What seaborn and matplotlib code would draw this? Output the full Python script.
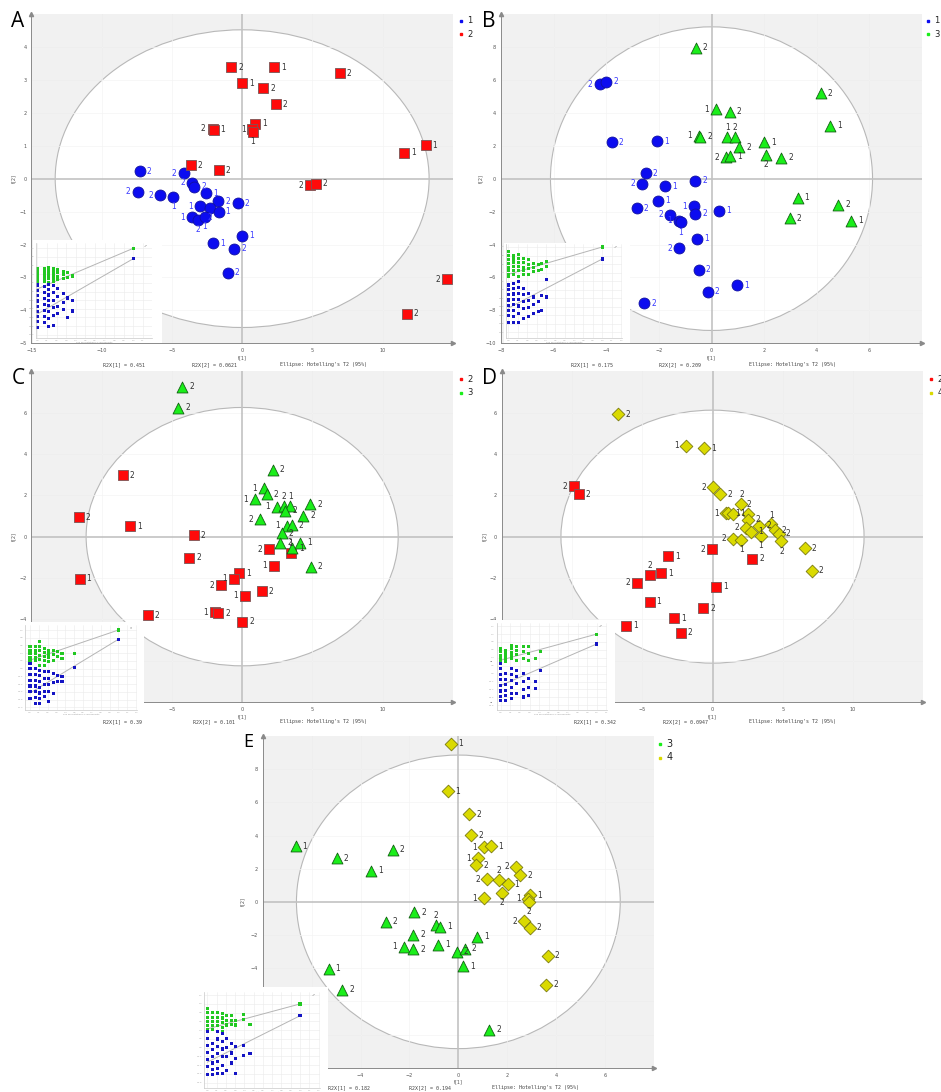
import numpy as np
import pandas as pd
import matplotlib
matplotlib.use('Agg')
import matplotlib.pyplot as plt
import seaborn as sb
from matplotlib.patches import Ellipse
from matplotlib.lines import Line2D
from matplotlib.ticker import MultipleLocator

# ---------------- score values ----------------
# panel A : groups 1 (circles) and 2 (squares)
a_x1 = [-7.27, -7.44, -5.83, -4.91, -4.17, -3.58, -3.41, -2.56, -1.71, -0.31,
        -3.01, -2.30, -1.68, -3.60, -3.15, -2.65, 0.02, -2.06, -0.57, -1.04]
a_y1 = [0.23, -0.40, -0.51, -0.55, 0.16, -0.12, -0.25, -0.45, -0.69, -0.74,
        -0.84, -0.89, -1.01, -1.17, -1.25, -1.16, -1.74, -1.96, -2.13, -2.86]
a_l1 = ['2', '2', '2', '1', '2', '2', '2', '1', '2', '2',
        '1', '2', '1', '1', '2', '1', '1', '1', '2', '2']
a_x2 = [-0.76, 2.27, 6.94, 0.0, 1.49, 2.39, -2.10, -2.02, 0.90, 0.73,
        0.75, 11.52, 13.06, -3.65, -1.66, 4.81, 5.24, 14.6, 11.73]
a_y2 = [3.38, 3.38, 3.20, 2.90, 2.74, 2.26, 1.51, 1.49, 1.66, 1.50,
        1.42, 0.78, 1.02, 0.40, 0.26, -0.20, -0.15, -3.06, -4.10]
a_l2 = ['2', '1', '2', '1', '2', '2', '2', '1', '1', '1',
        '1', '1', '1', '2', '2', '2', '2', '2', '2']

# panel B : groups 1 and 3
b_x1 = [-4.25, -4.0, -3.78, -2.06, -2.49, -2.64, -1.75, -0.62, -2.02, -2.84, -0.67,
        -0.62, 0.29, -1.57, -1.24, -1.17, -0.56, -1.23, -0.49, -0.15, 0.96, -2.56]
b_y1 = [5.74, 5.90, 2.22, 2.26, 0.32, -0.32, -0.46, -0.12, -1.35, -1.80, -1.68,
        -2.14, -1.94, -2.18, -2.55, -2.65, -3.64, -4.22, -5.54, -6.87, -6.46, -7.56]
b_l1 = ['2', '2', '2', '1', '2', '2', '1', '2', '1', '2', '1',
        '2', '1', '2', '1', '1', '1', '2', '2', '2', '1', '2']
b_x3 = [-0.60, 0.17, 0.70, 4.16, 4.52, -0.47, -0.42, 0.60, 0.90, 1.05,
        2.0, 0.55, 0.70, 2.08, 2.66, 3.27, 4.82, 2.98, 5.30]
b_y3 = [7.96, 4.22, 4.06, 5.19, 3.21, 2.61, 2.53, 2.53, 2.53, 1.90,
        2.20, 1.29, 1.35, 1.43, 1.27, -1.15, -1.60, -2.42, -2.57]
b_l3 = ['2', '1', '2', '2', '1', '1', '2', '1', '2', '2',
        '1', '2', '1', '2', '2', '1', '2', '2', '1']

# panel C : groups 2 and 3
c_x2 = [-8.48, -11.61, -7.99, -3.46, -3.77, -11.56, -6.73, 1.94, 3.48,
        2.27, -0.21, -0.57, -1.47, 0.17, 1.40, -1.92, -1.71, 0.0]
c_y2 = [2.97, 0.95, 0.50, 0.06, -1.02, -2.03, -3.81, -0.61, -0.77,
        -1.40, -1.76, -2.03, -2.34, -2.85, -2.63, -3.66, -3.71, -4.11]
c_l2 = ['2', '2', '1', '2', '2', '1', '2', '2', '1',
        '1', '1', '1', '2', '1', '2', '1', '2', '2']
c_x3 = [-4.27, -4.53, 2.16, 1.54, 1.75, 0.90, 2.46, 2.96, 3.41, 3.06,
        4.86, 4.34, 1.28, 3.20, 3.53, 2.82, 2.70, 4.10, 3.58, 4.88]
c_y3 = [7.26, 6.24, 3.23, 2.34, 2.05, 1.82, 1.45, 1.50, 1.50, 1.26,
        1.56, 1.02, 0.84, 0.53, 0.56, 0.16, -0.29, -0.29, -0.56, -1.45]
c_l3 = ['2', '2', '2', '1', '2', '1', '1', '2', '1', '2',
        '2', '2', '2', '1', '2', '2', '2', '1', '1', '2']

# panel D : groups 2 and 4
d_x2 = [-9.88, -9.53, -0.02, -3.18, 2.82, -3.65, -4.45, -5.36, 0.26, -4.48,
        -0.66, -2.73, -6.16, -2.25]
d_y2 = [2.44, 2.06, -0.60, -0.94, -1.06, -1.76, -1.85, -2.23, -2.42, -3.15,
        -3.47, -3.95, -4.31, -4.65]
d_l2 = ['2', '2', '2', '1', '2', '1', '2', '2', '1', '1', '2', '1', '1', '2']
d_x4 = [-6.73, -1.87, -0.59, 0.02, 0.55, 2.06, 0.95, 1.14, 1.49, 2.56, 2.56, 3.32,
        4.19, 4.45, 4.74, 2.39, 2.75, 3.46, 1.45, 2.04, 4.91, 6.56, 7.06]
d_y4 = [5.92, 4.40, 4.27, 2.40, 2.06, 1.58, 1.13, 1.13, 1.11, 1.11, 0.81, 0.53,
        0.61, 0.31, 0.13, 0.44, 0.24, 0.03, -0.11, -0.16, -0.23, -0.55, -1.66]
d_l4 = ['2', '1', '1', '2', '2', '2', '1', '1', '1', '2', '2', '2',
        '1', '2', '2', '2', '1', '1', '2', '1', '2', '2', '2']

# panel E : groups 3 and 4
e_x3 = [-6.65, -4.96, -2.68, -3.56, -1.80, -2.96, -0.91, -0.74, -1.85, 0.78,
        -2.21, -1.84, -0.84, -0.07, 0.27, 0.20, -5.30, -4.75, 1.27]
e_y3 = [3.36, 2.64, 3.14, 1.87, -0.64, -1.21, -1.39, -1.49, -1.97, -2.09,
        -2.70, -2.86, -2.58, -3.0, -2.84, -3.88, -4.02, -5.29, -7.71]
e_l3 = ['1', '2', '2', '1', '2', '2', '2', '1', '2', '1',
        '1', '2', '1', '2', '2', '1', '1', '2', '2']
e_x4 = [-0.30, -0.42, 0.45, 0.53, 1.05, 1.34, 0.79, 0.74, 2.36, 2.53, 1.19,
        1.65, 2.02, 1.77, 1.06, 2.94, 2.85, 2.90, 2.68, 2.93, 3.65, 3.60]
e_y4 = [9.52, 6.66, 5.29, 4.02, 3.30, 3.34, 2.62, 2.21, 2.11, 1.61, 1.35,
        1.33, 1.05, 0.52, 0.22, 0.40, 0.18, -0.02, -1.17, -1.55, -3.26, -4.99]
e_l4 = ['1', '1', '2', '2', '1', '1', '1', '2', '2', '2', '2',
        '2', '1', '2', '1', '1', '1', '2', '2', '2', '2', '2']

# R2X values printed under each plot
r2x = {'A': ('0.451', '0.0621'), 'B': ('0.175', '0.209'), 'C': ('0.39', '0.101'),
       'D': ('0.342', '0.0947'), 'E': ('0.182', '0.194')}

# ---------------- permutation insets (correlation -> values per column) ----------------
ins_a_r2 = {0.0: [0.54, 0.49, 0.44, 0.38, 0.33, 0.27, 0.22], 0.07: [0.52, 0.46, 0.40, 0.34, 0.28, 0.23],
            0.12: [0.55, 0.49, 0.42, 0.36, 0.30, 0.21], 0.17: [0.52, 0.45, 0.37, 0.31, 0.24],
            0.21: [0.51, 0.43, 0.35, 0.28], 0.27: [0.47, 0.39, 0.31], 0.31: [0.43, 0.33], 0.37: [0.36]}
ins_a_q2 = {0.0: [0.15, 0.02, -0.10, -0.22, -0.34, -0.46, -0.58, -0.70, -0.84],
            0.07: [0.12, -0.02, -0.16, -0.30, -0.44, -0.58, -0.72],
            0.12: [0.16, 0.04, -0.08, -0.20, -0.33, -0.47, -0.62, -0.80],
            0.17: [0.13, -0.03, -0.20, -0.38, -0.55, -0.78], 0.21: [0.08, -0.12, -0.34, -0.50],
            0.27: [-0.05, -0.25, -0.42], 0.31: [-0.15, -0.60], 0.37: [-0.20, -0.45]}
ins_b_r2 = {0.0: [0.89, 0.80, 0.71, 0.62, 0.53, 0.44, 0.35, 0.30], 0.053: [0.81, 0.72, 0.63, 0.54, 0.45, 0.35],
            0.107: [0.83, 0.74, 0.64, 0.54, 0.44, 0.30], 0.16: [0.73, 0.63, 0.53, 0.44, 0.35],
            0.213: [0.70, 0.60, 0.50, 0.35], 0.267: [0.62, 0.52, 0.43], 0.32: [0.58, 0.45],
            0.356: [0.62, 0.47], 0.41: [0.66, 0.55]}
ins_b_q2 = {0.0: [0.11, 0.0, -0.12, -0.24, -0.36, -0.48, -0.60, -0.77],
            0.053: [0.15, 0.02, -0.10, -0.22, -0.35, -0.48, -0.62, -0.77],
            0.107: [0.19, 0.06, -0.08, -0.22, -0.38, -0.55, -0.77], 0.16: [0.03, -0.12, -0.28, -0.45, -0.67],
            0.213: [-0.09, -0.25, -0.42, -0.62], 0.267: [-0.17, -0.35, -0.56], 0.32: [-0.28, -0.52],
            0.356: [-0.13, -0.48], 0.41: [0.23, -0.17]}
ins_c_r2 = {0.0: [0.57, 0.48, 0.39, 0.30, 0.22, 0.18], 0.057: [0.57, 0.48, 0.39, 0.30, 0.22],
            0.106: [0.70, 0.57, 0.46, 0.35, 0.24, 0.09], 0.159: [0.53, 0.42, 0.31, 0.20, 0.09],
            0.208: [0.48, 0.38, 0.28, 0.18], 0.264: [0.48, 0.36, 0.22], 0.31: [0.44, 0.31],
            0.362: [0.40, 0.27], 0.50: [0.40]}
ins_c_q2 = {0.0: [0.13, 0.0, -0.15, -0.30, -0.45, -0.60, -0.77],
            0.057: [0.0, -0.15, -0.30, -0.45, -0.60, -0.75, -0.90],
            0.106: [-0.04, -0.18, -0.33, -0.48, -0.63, -0.78, -0.90],
            0.159: [-0.08, -0.25, -0.42, -0.58, -0.73], 0.208: [-0.08, -0.25, -0.42, -0.60, -0.86],
            0.264: [-0.13, -0.35, -0.64], 0.31: [-0.17, -0.34], 0.362: [-0.21, -0.34], 0.50: [0.03]}
ins_d_r2 = {0.0: [0.64, 0.55, 0.46, 0.38, 0.30], 0.052: [0.59, 0.51, 0.43, 0.35, 0.30],
            0.115: [0.72, 0.63, 0.54, 0.46, 0.38], 0.167: [0.68, 0.58, 0.48, 0.34],
            0.236: [0.68, 0.55, 0.38], 0.288: [0.68, 0.52, 0.34], 0.358: [0.38], 0.41: [0.55]}
ins_d_q2 = {0.0: [0.26, 0.12, -0.02, -0.16, -0.30, -0.44, -0.58, -0.67],
            0.052: [0.0, -0.14, -0.28, -0.42, -0.55, -0.67], 0.115: [0.13, -0.02, -0.18, -0.34, -0.50, -0.63],
            0.167: [0.09, -0.08, -0.25, -0.50], 0.236: [0.0, -0.20, -0.40, -0.59],
            0.288: [-0.12, -0.35, -0.55], 0.358: [-0.21, -0.38], 0.41: [0.07]}
ins_e_r2 = {0.0: [0.90, 0.80, 0.70, 0.60, 0.50, 0.42, 0.37], 0.054: [0.80, 0.70, 0.60, 0.50, 0.41],
            0.108: [0.80, 0.70, 0.60, 0.50, 0.37], 0.162: [0.79, 0.68, 0.57, 0.46, 0.37],
            0.209: [0.73, 0.63, 0.52], 0.263: [0.73, 0.63, 0.54], 0.306: [0.63, 0.52],
            0.388: [0.75, 0.65], 0.46: [0.54]}
ins_e_q2 = {0.0: [0.37, 0.22, 0.06, -0.10, -0.26, -0.42, -0.62], 0.054: [0.10, -0.05, -0.20, -0.35, -0.50, -0.62],
            0.108: [0.37, 0.20, 0.03, -0.14, -0.31, -0.48, -0.58], 0.162: [0.33, 0.15, -0.03, -0.21, -0.40, -0.58],
            0.209: [0.21, 0.0, -0.20, -0.51], 0.263: [0.10, -0.12, -0.35], 0.306: [0.02, -0.25, -0.58],
            0.388: [0.06, -0.17], 0.46: [-0.13]}
# original model (R2, Q2) and intercepts of the two regression lines
ins_orig = {'A': (1.0, 0.76), 'B': (1.0, 0.72), 'C': (1.0, 0.76), 'D': (1.0, 0.75), 'E': (1.0, 0.73)}
ins_icpt = {'A': (0.06, -0.52), 'B': (0.36, -0.43), 'C': (0.22, -0.63), 'D': (0.34, -0.30), 'E': (0.43, -0.33)}

# ---------------- styles ----------------
W, H = 941, 1092
STYLE = {
    '1': dict(marker='o', color='#0c0cf0', edge='#1010a0', s=62, lab='#3a3aff'),
    '2': dict(marker='s', color='#ff0a0a', edge='#7a5555', s=52, lab='#333333'),
    '3': dict(marker='^', color='#1aee1a', edge='#126012', s=62, lab='#333333'),
    '4': dict(marker='D', color='#dada00', edge='#7a7a10', s=42, lab='#333333'),
}
# where the observation label sits (default right): l=left, a=above, b=below
SIDES = {
    ('A', '1'): {1: 'l', 2: 'l', 3: 'b', 4: 'l', 5: 'l', 10: 'l', 11: 'b', 13: 'l', 14: 'b', 15: 'b'},
    ('A', '2'): {6: 'l', 9: 'l', 10: 'b', 15: 'l', 17: 'l'},
    ('B', '1'): {0: 'l', 5: 'l', 10: 'l', 13: 'l', 14: 'l', 15: 'b', 17: 'l'},
    ('B', '3'): {1: 'l', 5: 'l', 7: 'a', 8: 'a', 11: 'l', 13: 'b'},
    ('C', '2'): {7: 'l', 8: 'a', 9: 'l', 11: 'l', 12: 'l', 13: 'l', 15: 'l'},
    ('C', '3'): {3: 'l', 5: 'l', 6: 'l', 7: 'a', 8: 'a', 12: 'l', 13: 'l'},
    ('D', '2'): {0: 'l', 2: 'l', 6: 'a', 7: 'l'},
    ('D', '4'): {1: 'l', 3: 'l', 5: 'a', 6: 'l', 9: 'a', 12: 'a', 15: 'l', 17: 'b', 18: 'l', 19: 'b',
                 20: 'b'},
    ('E', '3'): {6: 'a', 10: 'l'},
    ('E', '4'): {4: 'l', 6: 'l', 8: 'l', 10: 'l', 11: 'a', 13: 'b', 14: 'l', 16: 'l', 17: 'b', 18: 'l'},
}
OFFS = {'r': ((5, 0), 'left'), 'l': ((-5, 0), 'right'), 'a': ((0, 6.5), 'center'), 'b': ((0, -7), 'center')}


def rect(l, t, r, b):
    return [l / W, 1 - b / H, (r - l) / W, (b - t) / H]


def fxy(x, y):
    return x / W, 1 - y / H


sb.set_style('white')
plt.rcParams['font.family'] = ['DejaVu Sans']
fig = plt.figure(figsize=(W / 100, H / 100), dpi=100)


def score_panel(p, groups):
    ax = fig.add_axes(rect(*p['rect']))
    ax.set_facecolor('#f1f1f1')
    ax.set_xlim(p['xlim'])
    ax.set_ylim(p['ylim'])
    for v in p['xt']:
        if v != 0:
            ax.axvline(v, color='#e0e0e0', lw=0.6, zorder=0.3)
    for v in p['yt']:
        if v != 0:
            ax.axhline(v, color='#e0e0e0', lw=0.6, zorder=0.3)
    ax.add_patch(Ellipse((0, 0), 2 * p['ell'][0], 2 * p['ell'][1], facecolor='white',
                         edgecolor='#b8b8b8', lw=0.8, zorder=0.5))
    for v in p['xt']:
        if v != 0:
            ax.axvline(v, color='#f4f4f4', lw=0.5, zorder=0.6)
    for v in p['yt']:
        if v != 0:
            ax.axhline(v, color='#f4f4f4', lw=0.5, zorder=0.6)
    ax.axhline(0, color='#c2c2c2', lw=1.2, zorder=1)
    ax.axvline(0, color='#c2c2c2', lw=1.2, zorder=1)

    rows = []
    for g, xs, ys, ls in groups:
        side = SIDES.get((p['key'], g), {})
        for i, (x, y, l) in enumerate(zip(xs, ys, ls)):
            rows.append((x, y, g, l, side.get(i, 'r')))
    df = pd.DataFrame(rows, columns=['t1', 't2', 'grp', 'obs', 'side'])
    for g, sub in df.groupby('grp'):
        st = STYLE[g]
        sb.scatterplot(data=sub, x='t1', y='t2', marker=st['marker'], color=st['color'],
                       edgecolor=st['edge'], linewidth=0.6, s=st['s'], ax=ax, zorder=3, legend=False)
        for _, r in sub.iterrows():
            off, ha = OFFS[r['side']]
            ax.annotate(r['obs'], (r['t1'], r['t2']), xytext=off, textcoords='offset points',
                        va='center', ha=ha, fontsize=5.5, color=st['lab'], zorder=4)

    ax.set_xticks(p['xt'])
    ax.set_yticks(p['yt'])
    ax.xaxis.set_minor_locator(MultipleLocator(p['xminor']))
    ax.yaxis.set_minor_locator(MultipleLocator(p['yminor']))
    ax.tick_params(which='both', direction='out', colors='#8a8a8a', labelcolor='#555555',
                   labelsize=3.5, width=0.5, length=2, pad=1.5)
    ax.tick_params(which='minor', length=1.1)
    for s in ['top', 'right']:
        ax.spines[s].set_visible(False)
    for s in ['left', 'bottom']:
        ax.spines[s].set_color('#8a8a8a')
        ax.spines[s].set_linewidth(0.7)
    ax.plot([1], [0], marker='>', ms=3, color='#8a8a8a', transform=ax.transAxes, clip_on=False)
    ax.plot([0], [1], marker='^', ms=3, color='#8a8a8a', transform=ax.transAxes, clip_on=False)
    ax.set_xlabel('t[1]', fontsize=3.5, color='#555555', labelpad=1.5)
    ax.set_ylabel('t[2]', fontsize=3.5, color='#555555', labelpad=2)

    # panel letter, legend and statistics line
    fig.text(*fxy(*p['letter_xy']), p['key'], fontsize=p['letter_fs'], family='Open Sans',
             va='top', ha='left', color='black')
    lx, ly = p['legend_xy']
    for i, g in enumerate(p['legend']):
        fig.add_artist(Line2D([lx / W], [1 - (ly + 13.5 * i) / H], marker='s', ms=1.6,
                              color=STYLE[g]['color'], linestyle='none', transform=fig.transFigure))
        fig.text(*fxy(lx + 6.5, ly + 13.5 * i), g, fontsize=p['legend_fs'], va='center',
                 ha='left', color='#222222')
    sx, sy = p['stats_xy']
    texts = ['R2X[1] = ' + r2x[p['key']][0], 'R2X[2] = ' + r2x[p['key']][1],
             "Ellipse: Hotelling's T2 (95%)"]
    for x, t in zip(sx, texts):
        fig.text(*fxy(x, sy), t, fontsize=3.6, family='DejaVu Sans Mono', color='#444444',
                 va='center', ha='left')
    return ax


def perm_inset(p, r2cols, q2cols):
    bg = fig.add_axes(rect(*p['box']))
    bg.set_facecolor('white')
    bg.set_xticks([])
    bg.set_yticks([])
    for sp in bg.spines.values():
        sp.set_visible(False)
    ia = fig.add_axes(rect(*p['inner']))
    ia.set_facecolor('white')
    rows = []
    for stat, cols in (('R2', r2cols), ('Q2', q2cols)):
        for c, vals in cols.items():
            for v in vals:
                rows.append((c, v, stat))
    r2o, q2o = ins_orig[p['key']]
    rows.append((1.0, r2o, 'R2'))
    rows.append((1.0, q2o, 'Q2'))
    perm = pd.DataFrame(rows, columns=['corr', 'val', 'stat'])
    r2i, q2i = ins_icpt[p['key']]
    ia.plot([0, 1], [r2i, r2o], color='#b5b5b5', lw=0.7, zorder=1)
    ia.plot([0, 1], [q2i, q2o], color='#b5b5b5', lw=0.7, zorder=1)
    sb.scatterplot(data=perm, x='corr', y='val', hue='stat', palette={'R2': '#22c822', 'Q2': '#1414c4'},
                   marker='s', s=5, linewidth=0, ax=ia, legend=False, zorder=2)
    ia.set_xlim(p['xlim'])
    ia.set_ylim(p['ylim'])
    ia.xaxis.set_major_locator(MultipleLocator(0.1))
    ia.yaxis.set_major_locator(MultipleLocator(0.2))
    ia.grid(True, color='#ebebeb', lw=0.4)
    ia.tick_params(direction='out', colors='#bbbbbb', labelcolor='#aaaaaa', labelsize=1.6,
                   width=0.3, length=1, pad=0.5)
    for s in ['top', 'right']:
        ia.spines[s].set_visible(False)
    for s in ['left', 'bottom']:
        ia.spines[s].set_color('#c8c8c8')
        ia.spines[s].set_linewidth(0.5)
    ia.set_xlabel('200 permutations 2 components', fontsize=1.6, color='#999999', labelpad=0.5)
    ia.set_ylabel('')
    ia.text(0.96, 0.98, 'R2\nQ2', transform=ia.transAxes, fontsize=1.6, color='#999999',
            va='top', ha='right')


panels = {
    'A': dict(key='A', rect=(31.3, 14, 453, 343.3), xlim=(-15, 15), ylim=(-5, 5), ell=(13.3, 4.52),
              xt=np.arange(-15, 11, 5), yt=np.arange(-5, 5, 1), xminor=2.5, yminor=0.5,
              letter_xy=(11, 11), letter_fs=15, legend=['1', '2'], legend_xy=(460.7, 20.7), legend_fs=6,
              stats_xy=((103, 192, 280), 364.7)),
    'B': dict(key='B', rect=(501, 14, 922, 343.3), xlim=(-8, 8), ylim=(-10, 10), ell=(6.12, 9.22),
              xt=np.arange(-8, 7, 2), yt=np.arange(-10, 9, 2), xminor=1, yminor=1,
              letter_xy=(482, 11), letter_fs=15, legend=['1', '3'], legend_xy=(927.7, 20.7), legend_fs=6,
              stats_xy=((571, 659, 749), 364.7)),
    'C': dict(key='C', rect=(31.3, 371.3, 453, 702), xlim=(-15, 15), ylim=(-8, 8), ell=(11.1, 6.25),
              xt=np.arange(-15, 11, 5), yt=np.arange(-8, 7, 2), xminor=2.5, yminor=1,
              letter_xy=(12, 368), letter_fs=15, legend=['2', '3'], legend_xy=(461, 379), legend_fs=6,
              stats_xy=((103, 193, 280), 722)),
    'D': dict(key='D', rect=(502, 371.3, 923, 702), xlim=(-15, 15), ylim=(-8, 8), ell=(10.8, 6.12),
              xt=np.arange(-15, 11, 5), yt=np.arange(-8, 7, 2), xminor=2.5, yminor=1,
              letter_xy=(482, 368), letter_fs=15, legend=['2', '4'], legend_xy=(931, 379), legend_fs=6,
              stats_xy=((574, 663, 749), 722)),
    'E': dict(key='E', rect=(262.7, 736, 654, 1067.7), xlim=(-8, 8), ylim=(-10, 10), ell=(6.62, 8.85),
              xt=np.arange(-8, 7, 2), yt=np.arange(-10, 9, 2), xminor=1, yminor=1,
              letter_xy=(243, 733), letter_fs=13, legend=['3', '4'], legend_xy=(660, 744), legend_fs=7,
              stats_xy=((328, 409, 492), 1088)),
}

insets = {
    'A': dict(key='A', box=(33, 240, 162, 343.3), inner=(36, 243, 152, 338),
              xlim=(-0.014, 1.195), ylim=(-1.076, 1.123)),
    'B': dict(key='B', box=(504, 243, 630, 343.3), inner=(506, 244, 622, 338),
              xlim=(-0.025, 1.21), ylim=(-1.13, 1.07)),
    'C': dict(key='C', box=(20, 622, 144, 717), inner=(25, 625, 137, 710),
              xlim=(-0.057, 1.21), ylim=(-1.07, 1.13)),
    'D': dict(key='D', box=(492, 620, 615, 714), inner=(496.7, 623, 606.7, 710),
              xlim=(-0.042, 1.104), ylim=(-0.92, 1.28)),
    'E': dict(key='E', box=(200, 987, 328, 1092), inner=(204, 991.7, 320, 1088),
              xlim=(-0.036, 1.216), ylim=(-0.92, 1.28)),
}

score_panel(panels['A'], [('1', a_x1, a_y1, a_l1), ('2', a_x2, a_y2, a_l2)])
score_panel(panels['B'], [('1', b_x1, b_y1, b_l1), ('3', b_x3, b_y3, b_l3)])
score_panel(panels['C'], [('2', c_x2, c_y2, c_l2), ('3', c_x3, c_y3, c_l3)])
score_panel(panels['D'], [('2', d_x2, d_y2, d_l2), ('4', d_x4, d_y4, d_l4)])
score_panel(panels['E'], [('3', e_x3, e_y3, e_l3), ('4', e_x4, e_y4, e_l4)])

perm_inset(insets['A'], ins_a_r2, ins_a_q2)
perm_inset(insets['B'], ins_b_r2, ins_b_q2)
perm_inset(insets['C'], ins_c_r2, ins_c_q2)
perm_inset(insets['D'], ins_d_r2, ins_d_q2)
perm_inset(insets['E'], ins_e_r2, ins_e_q2)

fig.savefig('out.png', dpi=100, facecolor='white')
